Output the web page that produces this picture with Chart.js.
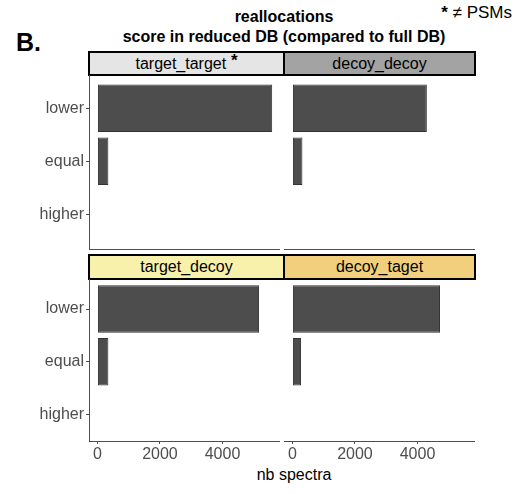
<!DOCTYPE html>
<html>
<head>
<meta charset="utf-8">
<script src="https://cdn.jsdelivr.net/npm/chart.js@4.4.1/dist/chart.umd.min.js"></script>
<style>
  body { margin: 0; background: #fff; font-family: "Liberation Sans", Arial, sans-serif; }
  #page { position: relative; width: 523px; height: 494px; overflow: hidden; }
  .abs { position: absolute; }
  .title { left: 84px; width: 400px; text-align: center; font-weight: bold; font-size: 16px; color: #000; }
  .strip { box-sizing: border-box; border: 2px solid #000; font-size: 16px; color: #000;
           display: flex; align-items: center; justify-content: center; }
  .panel { position: absolute; }
</style>
</head>
<body>
<div id="page">
  <div class="abs title" style="top:8px">reallocations</div>
  <div class="abs title" style="top:28px">score in reduced DB (compared to full DB)</div>
  <div class="abs" style="left:16px; top:28px; font-size:25px; font-weight:bold;">B.</div>
  <div class="abs" style="right:11px; top:3px; font-size:17px;"><b>*</b> &#8800; PSMs</div>

  <div class="abs strip" id="s0" style="left:88px; top:51px; width:197px; height:25px; background:#e5e5e5;"></div>
  <div class="abs strip" id="s1" style="left:283px; top:51px; width:193px; height:25px; background:#a3a3a3;"></div>
  <div class="abs strip" id="s2" style="left:88px; top:254px; width:197px; height:26px; background:#f7f1ab;"></div>
  <div class="abs strip" id="s3" style="left:283px; top:254px; width:193px; height:26px; background:#f2cf7d;"></div>

  <div class="panel" style="left:0px; top:75px; width:280px; height:176px;"><canvas id="c0"></canvas></div>
  <div class="panel" style="left:284px; top:75px; width:191px; height:176px;"><canvas id="c1"></canvas></div>
  <div class="panel" style="left:0px; top:279px; width:280px; height:186px;"><canvas id="c2"></canvas></div>
  <div class="panel" style="left:284px; top:279px; width:191px; height:186px;"><canvas id="c3"></canvas></div>

  <div class="abs" style="left:194px; width:200px; top:466px; text-align:center; font-size:16px; color:#000;">nb spectra</div>
</div>

<script>
const categories = ["lower", "equal", "higher"];
const panelNames = ["target_target", "decoy_decoy", "target_decoy", "decoy_taget"];
const targetTarget = [5590, 350, 0];
const decoyDecoy = [4300, 320, 0];
const targetDecoy = [5170, 350, 0];
const decoyTaget = [4720, 275, 0];
const xTicks = [0, 2000, 4000];

const panelValues = [targetTarget, decoyDecoy, targetDecoy, decoyTaget];
const tickColor = "#4d4d4d";
const axisColor = "#4d4d4d";
const fontFamily = '"Liberation Sans", Arial, sans-serif';

// strip labels (asterisk only on target_target)
panelNames.forEach((name, i) => {
    const el = document.getElementById("s" + i);
    el.textContent = name;
    if (i === 0) {
        const star = document.createElement("b");
        star.textContent = "\u00a0*";
        star.style.position = "relative";
        star.style.top = "-3px";
        star.style.fontSize = "17px";
        el.appendChild(star);
    }
});

function makePanel(i) {
    const isLeft = i % 2 === 0;
    const isBottom = i >= 2;
    const values = panelValues[i];
    const ctx = document.getElementById("c" + i).getContext("2d");

    return new Chart(ctx, {
        type: "bar",
        data: {
            datasets: [{
                label: panelNames[i],
                data: values.map((v, k) => ({ x: v, y: k })),
                backgroundColor: "#4d4d4d",
                borderColor: "#333333",
                borderWidth: 1,
                borderSkipped: false,
                barPercentage: 0.9,
                categoryPercentage: 1
            }]
        },
        options: {
            indexAxis: "y",
            responsive: true,
            maintainAspectRatio: false,
            animation: false,
            layout: { padding: 0 },
            plugins: { legend: { display: false }, tooltip: { enabled: false } },
            scales: {
                x: {
                    type: "linear",
                    min: -270,
                    max: 5840,
                    offset: false,
                    afterBuildTicks: s => { s.ticks = xTicks.map(v => ({ value: v })); },
                    afterFit: s => {
                        s.height = isBottom ? 24 : 2;
                        s.paddingLeft = 0;
                        s.paddingRight = 0;
                    },
                    border: { display: true, color: axisColor, width: 1 },
                    grid: { display: true, offset: false, drawOnChartArea: false, drawTicks: isBottom, tickLength: 3, color: axisColor },
                    ticks: {
                        display: isBottom,
                        color: tickColor,
                        padding: 1,
                        maxRotation: 0,
                        autoSkip: false,
                        font: { family: fontFamily, size: 16 },
                        callback: v => String(v)
                    }
                },
                y: {
                    type: "linear",
                    display: isLeft,
                    reverse: true,
                    offset: false,
                    min: isBottom ? -0.57 : -0.63,
                    max: isBottom ? 2.5 : 2.66,
                    afterBuildTicks: s => { s.ticks = categories.map((c, k) => ({ value: k })); },
                    afterFit: s => {
                        s.width = isLeft ? 89 : 0;
                        s.paddingTop = 0;
                        s.paddingBottom = 0;
                    },
                    border: { display: true, color: axisColor, width: 1 },
                    grid: { display: true, offset: false, drawOnChartArea: false, drawTicks: true, tickLength: 3, color: axisColor },
                    ticks: {
                        color: tickColor,
                        padding: 2,
                        autoSkip: false,
                        font: { family: fontFamily, size: 16 },
                        callback: v => categories[v]
                    }
                }
            }
        }
    });
}

document.addEventListener("DOMContentLoaded", function () {
    for (let i = 0; i < 4; i++) makePanel(i);
});
</script>
</body>
</html>
